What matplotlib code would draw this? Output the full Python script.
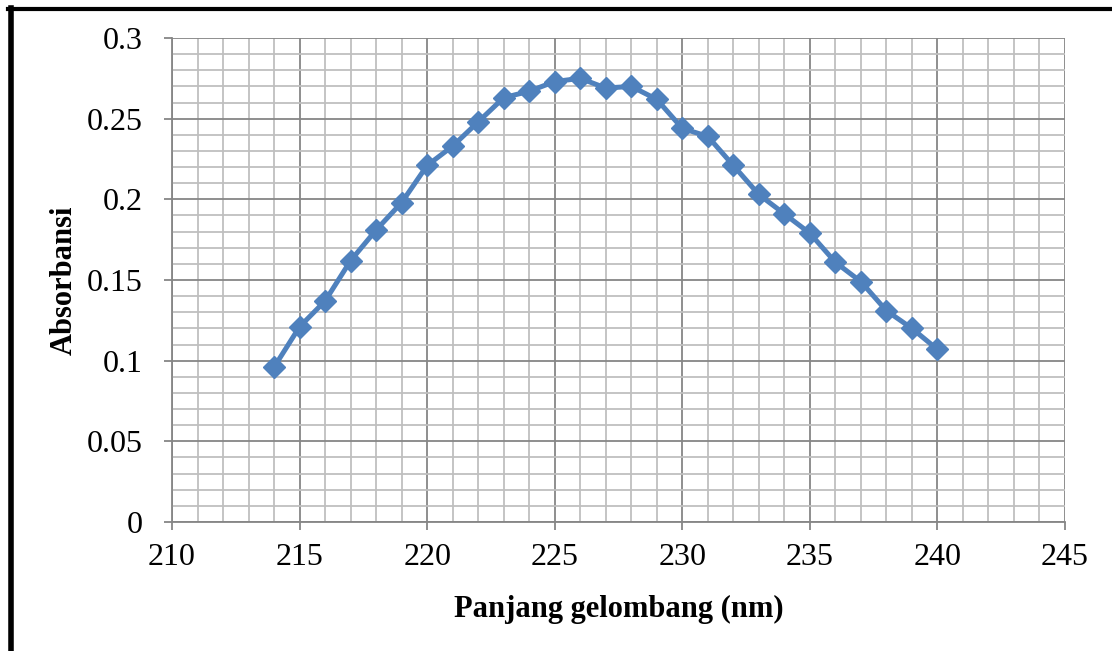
import numpy as np
import matplotlib
matplotlib.use('Agg')
import matplotlib.pyplot as plt
from matplotlib.ticker import MultipleLocator
from matplotlib.lines import Line2D

wavelength = [214, 215, 216, 217, 218, 219, 220, 221, 222, 223, 224, 225, 226, 227,
              228, 229, 230, 231, 232, 233, 234, 235, 236, 237, 238, 239, 240]
absorbance = [0.096, 0.121, 0.137, 0.162, 0.181, 0.198, 0.221, 0.233, 0.248, 0.263,
              0.267, 0.273, 0.275, 0.269, 0.270, 0.262, 0.244, 0.239, 0.221, 0.203,
              0.191, 0.179, 0.161, 0.149, 0.131, 0.120, 0.107]
yticks = [0, 0.05, 0.1, 0.15, 0.2, 0.25, 0.3]
ytick_labels = ['0', '0.05', '0.1', '0.15', '0.2', '0.25', '0.3']

plt.rcParams['font.family'] = ['Liberation Serif', 'DejaVu Serif']

fig = plt.figure(figsize=(11.12, 6.51), dpi=100)
ax = fig.add_axes([0.1547, 0.1982, 0.9577 - 0.1547, 0.9416 - 0.1982])

ax.plot(wavelength, absorbance, color='#4F81BD', lw=3.6, marker='D', ms=11.5,
        markeredgecolor='#4F81BD', zorder=3)

ax.set_xlim(210, 245)
ax.set_ylim(0, 0.3)
ax.xaxis.set_major_locator(MultipleLocator(5))
ax.xaxis.set_minor_locator(MultipleLocator(1))
ax.set_yticks(yticks)
ax.set_yticklabels(ytick_labels)
ax.yaxis.set_minor_locator(MultipleLocator(0.01))

ax.grid(which='minor', color='#BFBFBF', lw=1.3)
ax.grid(which='major', color='#868686', lw=1.3)
ax.set_axisbelow(True)
for s in ['top', 'right']:
    ax.spines[s].set_visible(False)
for s in ['left', 'bottom']:
    ax.spines[s].set_color('#868686')
    ax.spines[s].set_linewidth(1.3)
ax.tick_params(which='major', direction='out', length=6, width=1.3, color='#868686',
               labelsize=23)
ax.tick_params(axis='y', pad=15)
ax.tick_params(axis='x', pad=9)
ax.tick_params(which='minor', length=0)

ax.set_xlabel('Panjang gelombang (nm)', fontsize=22, fontweight='bold', labelpad=17)
ax.set_ylabel('Absorbansi', fontsize=22, fontweight='bold', labelpad=6)

# black frame around the figure (left and top edges visible)
fig.add_artist(Line2D([0.0095, 0.0095], [0, 0.988], color='black', lw=4, transform=fig.transFigure))
fig.add_artist(Line2D([0.0075, 1.0], [0.986, 0.986], color='black', lw=3, transform=fig.transFigure))

fig.savefig('out.png', dpi=100)
